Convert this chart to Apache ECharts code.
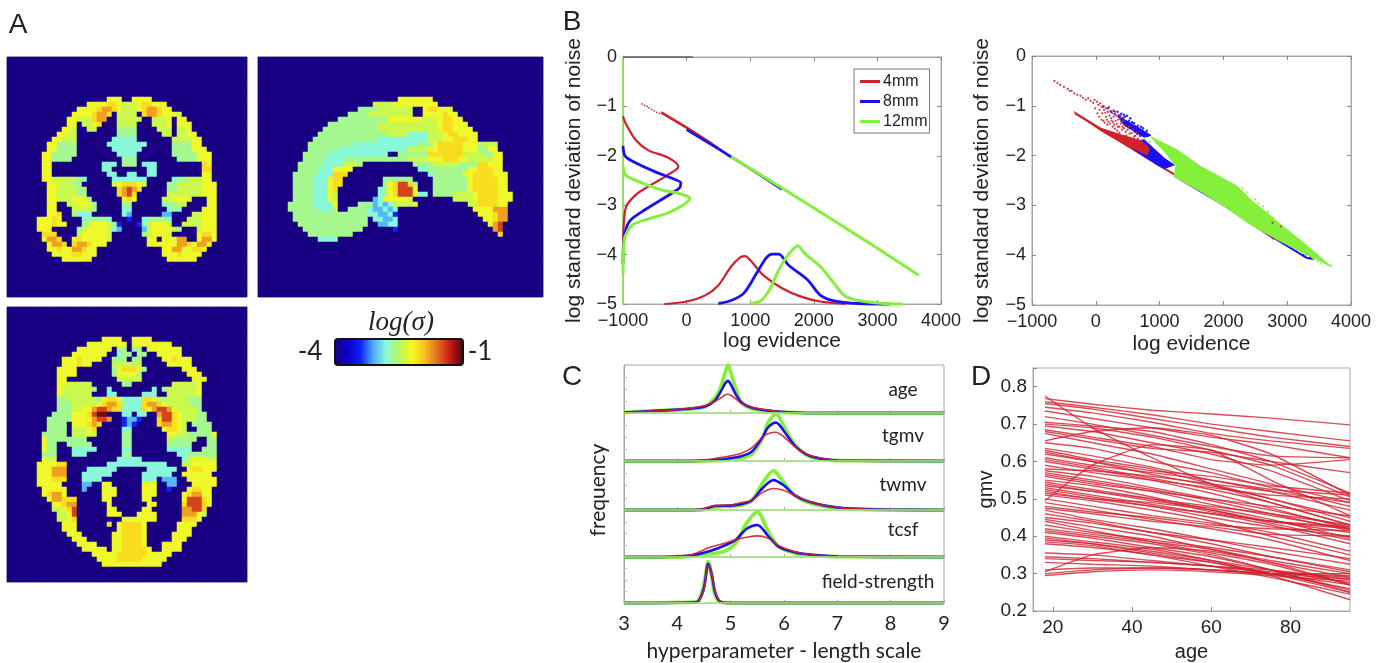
<!DOCTYPE html>
<html><head><meta charset="utf-8">
<style>html,body{margin:0;padding:0;background:#fff}#c{width:1383px;height:663px}</style>
<script src="https://cdn.jsdelivr.net/npm/echarts@6/dist/echarts.min.js"></script>
</head><body><div id="c"></div>
<script>
// ---------- Panel A: log(sigma) maps, run-length rows (count + level letter) ----------
const levelFractions = {'.':0,a:.2,b:.31,c:.4,d:.46,e:.53,f:.585,g:.65,h:.74,i:.85,j:.97};
const coronalRows = {8:"20.3f2.4f",9:"16.4f2g1f3e1f2g3f",10:"14.4f1g2h1g1f3e1f1g2h1g2f",11:"13.4f1g2h1g1.4e1.1g2h1g3f1e",
12:"12.2f3e1g2h2.5e2.3e1f1.2f",13:"12.2f1.2e1f1g3.4e3.3e1f1.3f",14:"11.2f1e2.2e4.4d4.3e1.2e1f",15:"10.2f2e8.4d5.2e1.2e2f",
16:"9.2f3e7.5c7.4e2f",17:"8.2f4d6.1c6c1c5.4d2f",18:"8.2f4d7.6c6.4d3f",19:"7.2f5d8.4c7.5d3f",20:"7.2f4d10.3d8.4d3f",
21:"7.2f10.3c1.3d1.3c9.1g1f",22:"7.2f10.2c7.2c9.2g",23:"7.2f11.2c2.2c2.2c9.2f",24:"7.2f5e1d1c5.7c5.1c2d3e2f",
25:"8.2f3e2d6.1e1f3g1f1e4.2d5e3f",26:"8.2f4e2d6.1g1h1i1h1g5.2d5e3f",27:"8.2f4e2d6.1g1h1i1g6.2e5e3f",28:"8.2f3e3f1d6.1f1g1f5.2e4f3.2f",
29:"8.2f2.2e3f1d5.2d6.1c2d2e4.2f",30:"8.2f3.4e1d5.2c7.1c1d1c4.3f",31:"8.2f1g2.1d3c6.1c1b6.2b4.2e3f",32:"6.3f1g1f4.1c4d1c3.1a2.1c4d1c3.3e3f",
33:"6.3f1g2f3.1d1e3f1e1d1a3.1a1c1e3f1e2.4e3f",34:"6.3f5.1d1e4f1e1c1b4.1b1e4f1e1d3.1e3f",35:"7.3g4.1e5f1e6.1d1e3f1e5.1f2g1f",
36:"7.1f2h1g2.1f1g5f1e7.2f1.3f2h2.1f2h1f",37:"8.1f2h1g1.1g2h1g3f8.6f2h1g1f2h1f",38:"8.2f1g2f2h1g2f13.2f2h2f2g1f",39:"9.4f2g3f13.3f1g4f",40:"11.6f15.6f"};
const sagittalRows = {8:"28.7f",9:"23.4e9f",10:"20.4d7e2.1f2g3f",11:"18.4d9e2.3f1f1g1f1f",12:"16.4d6d7f3e1f2g2f",13:"14.4d6d6e6e1f2g3f",
14:"13.3d8d7e5e1f2g1f3f",15:"12.14d4e4c3e1f2g4f",16:"11.13d10c3e2f3g2f",17:"10.9d13c3d1f5g3f1d3e",18:"10.6d14c4e2f5g3f2d2f",
19:"9.5d12c2.6d2g5g4e2d2f",20:"9.4d4c13d4e3f3g2f3e2e2f",21:"8.5d4c3e1d10.4d5e4d2g3f",22:"8.4d3c4f13.2c8d2f3g2f",23:"7.5d3c3g16.1c6d2f4g3f",
24:"7.4d3c1f2g8.6d4.7d1f5g2f",25:"7.4d3c1f2g8.1d1f1g2i1g1d3.7d1f5g2f",26:"7.4d3c1f1g8.1c1d1f1g3i1f3.7d1f5g2f",
27:"7.4d3c1f1e8.1c1d1f1g3i1f1c1c1.4d4e1f4g3f",28:"7.4d3c1f1e7.1b1c1f1f3f1e8.4e1f4g3f",29:"6.5d4c1f4.3d1b1c1b1c4e1f10.2e4g2f",
30:"6.6d3c1e2.4d1c2b1c1b1c15.4f3h",31:"7.8d7d2c2b1c1a16.3f1g2h",32:"7.15d1.2c2b1c17.2f1g2h",33:"8.14d2.2b2c18.1f1h1i",34:"9.12d6.1a19.1h1i",35:"10.9d29.1g",36:"12.4c"};
const axialRows = {6:"19.4f2.4f",7:"16.8f1.8f",8:"14.7f1.2d1.2d1.7f",9:"13.7f2.1c2d1.2d2.5f",10:"11.3f1g4f2.3d1.2d4.2f1g3f",11:"11.3f1g2f4.6e5.5f",
12:"10.4f7.1d1f3g1f1d7.3f",13:"10.4f7.1d4f1d9.3f",14:"10.2f10.5e10.3f",15:"10.2f5e6.2d8.5e1f",16:"10.1f6e1d2.1c8.1c1.1d6e1f",17:"10.1f6e3.2c5.3c2.6e1f",
18:"10.2d4e2e1d1f2g1f4c2g1f1e1d4e2d1d",19:"10.3d3e2e1f1g2h1g1d3c1g2h1g1f1e4e2d",20:"10.3d2e2f1h2i1h2g1c3c1g1f1h2i1h1f4e1d",
21:"9.4d3f1g1i2j3.2c1.2c2.1h2i1g1f3e2d",22:"8.5d3f1f1h2i1h2.1a2b1a3.1g2i1g1f3e2d",23:"8.4d1.3f1g1h1g4.1a1b1a4.1g2h1g1f1e1.4d",
24:"8.4d1.3e1f1g5.2c6.1f2g1f1e2.3d",25:"7.5d1.3e1f1e5.2d7.2f2e5d1f",26:"7.1f8d7.2d7.1e5d2.2d",27:"7.1f2d2.5d6.2d7.5d3.2d",
28:"7.1f2d3.5c5.2c7.5c2.3d",29:"7.3d3.3c7.2d9.2c6d",30:"7.1f2e12.5c8.1c1e3f2e",31:"6.4f2g8.12c3.2e3f2f",32:"6.3f3h4.6c6.6c2.1f2g3f",
33:"6.3f3h3.6c6.6c2.6f",34:"6.3f3g3.4c8.3c1.3b2.6f",35:"6.5f4.2b2.2f6.3f2.2b3.5f",36:"7.5f3.1b3.3f5.3f2.1a3.1f2g2f",37:"7.1f1g2h1f7.3f5.3f5.1f1g2h2f",
38:"8.1f2h1g2g5.2f6.2f6.1f3i1g1f",39:"9.2f1g2h6.1f7.2f5.1g3i1g1f",40:"9.2e1f1g1i6.2f5.2f6.2h2i1g",41:"10.2e1f1i6.3f3.4f5.3h1f1e",
42:"10.2e1f1g9.7f5.3g1f",43:"11.3f6.1g1.1f4g1f6.4f",44:"11.3f8.1f4g1f6.3f",45:"12.3f6.2f4g1f5.4f",46:"13.3f5.2f4g1f5.3f",47:"14.4f3.2f4g1f3.4f",48:"15.5f1.2f5g1f2.4f",
49:"17.4f1f6g1f4f",50:"18.3f1f5g1f4f",51:"19.12f"};
const jetColors = ['#1a0083','#0a00c8','#1020ff','#50b0ff','#88f8d8','#b8f860','#f8f820','#f8c020','#e07020','#c81818','#500808'];

// ---------- Panel B: densities and noise/evidence cloud ----------
const evidenceDensity4 = [[-350,-5],[0,-4.95],[300,-4.82],[500,-4.62],[700,-4.24],[850,-4.05],[920,-4.03],[1000,-4.11],[1200,-4.41],[1500,-4.68],[1800,-4.85],[2100,-4.95],[2500,-5]];
const evidenceDensity8 = [[500,-4.99],[700,-4.93],[900,-4.78],[1100,-4.38],[1250,-4.07],[1350,-3.99],[1450,-3.99],[1600,-4.21],[1900,-4.51],[2100,-4.82],[2300,-4.93],[2700,-4.99],[3200,-5]];
const evidenceDensity12 = [[1000,-4.99],[1150,-4.95],[1300,-4.72],[1450,-4.31],[1600,-4],[1750,-3.82],[1850,-3.97],[2100,-4.24],[2300,-4.55],[2500,-4.85],[2800,-4.95],[3100,-4.99],[3400,-5]];
const noiseDensity4 = [[-1000,-1.2],[-960,-1.34],[-800,-1.68],[-600,-1.89],[-300,-2.03],[-130,-2.22],[-300,-2.39],[-600,-2.62],[-800,-2.79],[-950,-3.03],[-990,-3.43],[-1000,-4]];
const noiseDensity8 = [[-1000,-1.8],[-970,-2],[-850,-2.11],[-500,-2.32],[-200,-2.47],[-90,-2.55],[-120,-2.66],[-400,-2.89],[-700,-3.13],[-900,-3.33],[-980,-3.64],[-1000,-4.2]];
const noiseDensity12 = [[-1000,-2.2],[-960,-2.39],[-700,-2.55],[-400,-2.69],[-100,-2.77],[50,-2.86],[-50,-2.99],[-300,-3.16],[-600,-3.28],[-850,-3.4],[-980,-3.7],[-1000,-4.4]];
const diagonal4 = [[-400,-1.12],[0,-1.43],[400,-1.76],[700,-2.03]];
const diagonal8 = [[0,-1.47],[500,-1.86],[1000,-2.26],[1500,-2.68]];
const diagonal12 = [[700,-2.02],[1500,-2.65],[2200,-3.22],[3000,-3.87],[3650,-4.42]];
const sparseLeft4 = [[-700,-.95],[-660,-.98],[-620,-1],[-590,-1.03],[-550,-1.06],[-510,-1.09],[-470,-1.12],[-430,-1.14]];
const frontWedge4 = [[-340,-1.12],[78,-1.45],[392,-1.58],[705,-1.7],[836,-1.85],[810,-1.99],[496,-1.81],[78,-1.5]];
const frontWedge8a = [[496,-1.75],[757,-1.68],[1071,-2.05],[1228,-2.19],[1071,-2.26],[966,-2.19],[496,-1.8]];
const frontWedge8b = [[340,-1.2],[549,-1.35],[862,-1.59],[757,-1.63],[444,-1.39]];
const frontWedge12 = [[862,-1.62],[1280,-1.89],[1646,-2.22],[2011,-2.47],[2220,-2.62],[2430,-2.89],[2690,-3.16],[2900,-3.39],[3265,-3.76],[3683,-4.22],[3265,-3.96],[2847,-3.69],[2430,-3.39],[2064,-3.06],[1646,-2.72],[1228,-2.42],[1254,-2.22],[1123,-1.99]];
const frontRim4 = [[-330,-1.15],[0,-1.41],[1000,-2.2],[2000,-2.97],[2800,-3.68]];
const frontRim8 = [[1228,-2.4],[2000,-2.99],[2800,-3.66],[3300,-4.05],[3420,-4.08]];
const scatter4 = [[-650,-.5],[-600,-.54],[-560,-.58],[-500,-.62],[-440,-.66],[-410,-.7],[-380,-.7],[-340,-.75],[-290,-.78],[-240,-.8],[-200,-.84],[-160,-.88],[-120,-.85],[-80,-.9],[-40,-.94],[-20,-.88],[20,-.92],[40,-.98],[70,-.95],[90,-1.02],[120,-1],[130,-1.08],[160,-1.05],[190,-1.12],[210,-1.02],[230,-1.1],[260,-1.15],[280,-1.22],[300,-1.12],[330,-1.2],[350,-1.28],[380,-1.25],[400,-1.32],[160,-1.22],[200,-1.32],[250,-1.3],[290,-1.38],[330,-1.36],[370,-1.42],[420,-1.42],[120,-1.3],[450,-1.38],[500,-1.48],[560,-1.55],[620,-1.6],[2900,-3.42],[2770,-3.35],
[60,-1.08],[100,-1.15],[150,-1.14],[175,-1.28],[215,-1.2],[240,-1.25],[270,-1.33],[310,-1.3],[345,-1.42],[390,-1.36],[410,-1.48],[440,-1.45],[470,-1.52],[520,-1.42],[530,-1.56],[580,-1.48],[600,-1.62],[640,-1.54],[660,-1.66],[690,-1.6],[220,-1.36],[265,-1.42],[300,-1.46],[335,-1.5],[370,-1.54],[140,-1.34],[180,-1.38],[90,-1.28],[55,-1.22],[25,-1.15],[-10,-1.05],[480,-1.6],[360,-1.18],[430,-1.3]];
const scatter8 = [[120,-1.02],[190,-1.05],[240,-1.12],[280,-1.1],[300,-1.17],[340,-1.12],[380,-1.2],[400,-1.16],[430,-1.24],[460,-1.22],[520,-1.3],[570,-1.33],[620,-1.42],[680,-1.46],[730,-1.5],[780,-1.55],[820,-1.6],[1380,-2.15],[1450,-2.2],[2800,-3.47],[2860,-3.52],[2950,-3.6],[3050,-3.68],[3130,-3.75],[3200,-3.8],[3230,-3.92],[3280,-3.85],[3300,-3.98],[3330,-3.95],[3360,-4.05],[3400,-3.99],
[610,-1.52],[650,-1.56],[700,-1.6],[660,-1.4],[600,-1.35],[540,-1.25],[490,-1.2],[440,-1.18],[740,-1.45],[800,-1.5],[710,-1.42],[3100,-3.82],[3160,-3.88],[3250,-4],[3050,-3.78]];
const scatter12 = [[2780,-3.25],[2830,-3.32],[2880,-3.38],[2940,-3.44],[3000,-3.52],[3080,-3.6],[3140,-3.66],[3400,-4.07],[3480,-4.12],[3530,-4.17],[3580,-4.15],[3640,-4.2],[3690,-4.21],[780,-1.65],[850,-1.72],[950,-1.75],[1100,-1.82],[2550,-2.96],[2620,-3.02],[2700,-3.12],[2500,-2.88],[2360,-2.74],[2300,-2.66]];

// ---------- Panel C: length-scale histograms ----------
const ageX=[3,3.5,4,4.5,4.7,4.8,4.9,4.95,5,5.1,5.2,5.4,5.7,6,6.5,9];
const age4=[.01,.04,.07,.15,.24,.3,.38,.39,.37,.29,.2,.12,.06,.02,0,0];
const age8=[.01,.04,.07,.13,.25,.42,.62,.67,.6,.38,.22,.11,.05,.02,0,0];
const age12=[.01,.04,.07,.12,.31,.5,.85,1,.85,.5,.22,.09,.03,.01,0,0];
const tgmvX=[3,4.3,4.8,5,5.2,5.4,5.6,5.7,5.85,6,6.2,6.4,6.6,7,9];
const tgmv4=[0,0,.07,.11,.16,.28,.5,.57,.6,.5,.3,.15,.08,.01,0];
const tgmv8=[0,0,.03,.06,.1,.2,.5,.7,.8,.62,.32,.15,.07,.01,0];
const tgmv12=[0,0,.01,.03,.06,.15,.48,.8,.98,.72,.34,.14,.05,.01,0];
const twmvX=[3,4.3,4.5,4.7,5,5.2,5.4,5.6,5.8,6,6.2,6.5,7,7.5,8,9];
const twmv4=[0,0,.03,.09,.1,.15,.2,.36,.44,.4,.3,.16,.05,.02,.005,0];
const twmv8=[0,0,.02,.08,.09,.12,.2,.45,.61,.5,.3,.16,.05,.02,.005,0];
const twmv12=[0,0,.01,.06,.08,.1,.2,.55,.8,.55,.3,.14,.04,.01,0,0];
const tcsfX=[3,3.7,4,4.3,4.6,4.9,5.1,5.3,5.5,5.7,5.9,6.2,6.5,7,9];
const tcsf4=[0,0,.01,.06,.2,.3,.37,.42,.45,.4,.24,.11,.05,.01,0];
const tcsf8=[0,0,.01,.04,.12,.25,.37,.6,.68,.45,.22,.1,.05,.01,0];
const tcsf12=[0,0,0,.02,.06,.13,.3,.72,.96,.55,.22,.08,.03,.01,0];
const fieldX=[3,4.3,4.4,4.5,4.58,4.65,4.7,4.8,5,9];
const field4=[0,.01,.05,.3,.82,.62,.3,.04,0,0];
const field8=[0,.01,.05,.33,.85,.6,.27,.03,0,0];
const field12=[0,.02,.06,.4,.9,.55,.2,.02,0,0];
const cLabels=['age','tgmv','twmv','tcsf','field-strength'];
const cBaseline=[[3,0],[9,0]];

// ---------- Panel D: gmv against age ----------
const gmvAges=[18,30,45,60,75,95];
const gmvRows=[[.775,.69,.61,.54,.49,.43],[.768,.753,.737,.727,.716,.698],[.76,.745,.725,.70,.68,.655],[.755,.74,.715,.69,.665,.64],[.745,.73,.705,.675,.655,.635],
[.735,.715,.69,.665,.645,.61],[.72,.70,.67,.64,.615,.61],[.705,.695,.68,.645,.60,.515],[.70,.69,.665,.63,.59,.505],[.695,.68,.65,.62,.575,.495],[.685,.665,.64,.605,.59,.605],
[.68,.66,.635,.625,.60,.57],[.675,.65,.62,.58,.54,.49],[.655,.68,.69,.67,.62,.51],[.65,.635,.60,.57,.53,.48],[.635,.615,.585,.55,.52,.47],[.63,.605,.58,.54,.50,.45],
[.625,.60,.565,.535,.50,.44],[.62,.60,.575,.56,.535,.515],[.61,.59,.57,.55,.525,.51],[.605,.585,.555,.525,.49,.43],[.60,.58,.55,.515,.475,.42],[.59,.57,.55,.53,.51,.50],
[.58,.575,.56,.54,.52,.49],[.575,.56,.53,.50,.47,.425],[.57,.55,.525,.495,.46,.415],[.565,.545,.52,.485,.455,.42],[.56,.54,.52,.50,.48,.455],[.55,.535,.505,.47,.435,.39],
[.545,.525,.50,.465,.44,.41],[.54,.52,.495,.475,.445,.395],[.535,.52,.50,.48,.46,.43],[.53,.51,.485,.46,.43,.38],[.525,.505,.48,.45,.425,.40],[.52,.50,.49,.47,.44,.42],
[.515,.50,.48,.46,.44,.425],[.51,.495,.47,.44,.40,.35],[.50,.48,.455,.435,.41,.36],[.495,.59,.645,.63,.55,.455],[.49,.47,.445,.42,.39,.335],[.48,.465,.45,.43,.42,.415],
[.475,.46,.44,.425,.405,.40],[.47,.445,.42,.39,.36,.325],[.46,.44,.41,.38,.345,.305],[.45,.435,.41,.39,.37,.34],[.445,.425,.40,.365,.33,.29],[.44,.415,.385,.355,.325,.27],
[.43,.41,.39,.37,.345,.31],[.42,.405,.385,.365,.335,.30],[.415,.40,.38,.35,.31,.255],[.41,.395,.37,.345,.31,.25],[.40,.385,.365,.335,.30,.26],[.395,.38,.355,.33,.295,.23],
[.39,.38,.36,.335,.31,.275],[.385,.375,.35,.33,.30,.25],[.38,.37,.35,.32,.29,.245],[.355,.35,.335,.32,.31,.285],[.345,.34,.33,.32,.30,.27],[.34,.335,.33,.32,.305,.29],
[.33,.325,.32,.31,.30,.30],[.31,.315,.315,.31,.30,.285],[.305,.35,.37,.36,.33,.27],[.30,.31,.315,.31,.30,.295],[.295,.305,.31,.305,.295,.28]];

// ---------- Option assembly ----------
const RED='#d0202c',BLUE='#1a10f0',GREEN='#84f03c',SANS='Liberation Sans',GILL='Lato',INK='#222',FRAME='#a8a8a8';
const grids=[],xAxes=[],yAxes=[],series=[],heatIdx=[];
const minus=v=>String(v).replace('-','\u2212');
const tickStyle={inside:true,length:4,lineStyle:{color:'#888'}};
function addPanel(box,xo,yo){
  const g=grids.length;
  grids.push(Object.assign({show:true,borderColor:FRAME,borderWidth:1,backgroundColor:'transparent',containLabel:false},box));
  const ai=xAxes.length;
  xAxes.push(Object.assign({type:'value',gridIndex:g,splitLine:{show:false},axisLine:{onZero:false,lineStyle:{color:FRAME}},axisTick:tickStyle,axisLabel:{color:INK,fontFamily:SANS,fontSize:18,margin:8,formatter:minus}},xo));
  yAxes.push(Object.assign({type:'value',gridIndex:g,splitLine:{show:false},axisLine:{onZero:false,lineStyle:{color:FRAME}},axisTick:tickStyle,axisLabel:{color:INK,fontFamily:SANS,fontSize:18,margin:6,formatter:minus}},yo));
  return ai;
}
function addMirror(xo,yo){
  const g=grids.length-1;
  xAxes.push(Object.assign({type:'value',gridIndex:g,position:'top',splitLine:{show:false},axisLine:{onZero:false,lineStyle:{color:FRAME}},axisTick:tickStyle,axisLabel:{show:false}},xo));
  yAxes.push(Object.assign({type:'value',gridIndex:g,position:'right',splitLine:{show:false},axisLine:{onZero:false,lineStyle:{color:FRAME}},axisTick:tickStyle,axisLabel:{show:false}},yo));
}
function line(ax,name,data,color,width,smooth,opacity,z){
  series.push({type:'line',name,xAxisIndex:ax,yAxisIndex:ax,data,showSymbol:false,symbol:'none',smooth:smooth?(smooth===true?0.3:smooth):false,clip:false,z:z||3,
    lineStyle:{color,width,opacity:opacity==null?1:opacity},itemStyle:{color},silent:true});
}
function band(ax,pts,color,z){
  series.push({type:'custom',xAxisIndex:ax,yAxisIndex:ax,coordinateSystem:'cartesian2d',data:[0],silent:true,z:z,clip:false,
    renderItem:(p,api)=>({type:'polygon',shape:{points:pts.map(q=>api.coord(q))},style:{fill:color,stroke:color,lineWidth:1}})});
}
function dots(ax,pts,color,size,z){
  series.push({type:'scatter',xAxisIndex:ax,yAxisIndex:ax,data:pts,symbolSize:size,itemStyle:{color,opacity:.9},silent:true,z:z||4});
}
function addBrain(rows,nc,nr,box){
  const g=grids.length;
  grids.push(Object.assign({show:true,borderColor:FRAME,borderWidth:1,containLabel:false},box));
  const ai=xAxes.length,cat=n=>Array.from({length:n},(_,i)=>i);
  xAxes.push({type:'category',gridIndex:g,data:cat(nc),show:false});
  yAxes.push({type:'category',gridIndex:g,data:cat(nr),show:false,inverse:true});
  const data=[];
  for(let r=0;r<nr;r++){
    let c=0;const cells=new Array(nc).fill('.');
    for(const m of (rows[r]||'').matchAll(/(\d+)([.a-j])/g)){for(let k=0;k<+m[1]&&c<nc;k++)cells[c++]=m[2];}
    cells.forEach((l,i)=>data.push([i,r,-4+3*levelFractions[l]]));
  }
  heatIdx.push(series.length);
  series.push({type:'heatmap',xAxisIndex:ai,yAxisIndex:ai,data,silent:true,progressive:0,itemStyle:{borderWidth:0}});
}
addBrain(coronalRows,48,48,{left:7,top:57,width:240,height:240});
addBrain(sagittalRows,57,48,{left:258,top:57,width:285,height:240});
addBrain(axialRows,48,55,{left:7,top:307,width:240,height:275});

const bx={min:-1000,max:4000,interval:1000}, by={min:-5,max:0,interval:1};
const named=(t,gap,size)=>({name:t,nameLocation:'middle',nameGap:gap,nameTextStyle:{color:INK,fontFamily:SANS,fontSize:size||21}});

// B left
const bl=addPanel({left:623,top:57,width:318,height:247},Object.assign({},bx,named('log evidence',27)),Object.assign({},by,named('log standard deviation of noise',38)));
addMirror(bx,by);
line(bl,'_edge',[[-1000,0],[-1000,-5]],GREEN,1.5,false,1,2);
line(bl,'_top',[[-1000,0],[100,0]],'#333',1.2,false,1,2);
line(bl,'4mm',evidenceDensity4,RED,2.2,true);
line(bl,'8mm',evidenceDensity8,BLUE,2.8,true);
line(bl,'12mm',evidenceDensity12,GREEN,3,true);
line(bl,'4mm',noiseDensity4,RED,2.2,true);
line(bl,'8mm',noiseDensity8,BLUE,2.8,true);
line(bl,'12mm',noiseDensity12,GREEN,3,true);
line(bl,'4mm',diagonal4,RED,2.6,false);
line(bl,'8mm',diagonal8,BLUE,2.6,false);
line(bl,'12mm',diagonal12,GREEN,3,false);
dots(bl,sparseLeft4,RED,1.8);

// B right
const br=addPanel({left:1032,top:56,width:319,height:249},Object.assign({},bx,named('log evidence',29)),Object.assign({},by,named('log standard deviation of noise',39)));
addMirror(bx,by);
line(br,'_r',frontRim4,RED,2,false,1,2);
line(br,'_b',frontRim8,BLUE,2,false,1,2);
band(br,frontWedge4,RED,4);
band(br,frontWedge8a,BLUE,3);
band(br,frontWedge8b,BLUE,3);
band(br,frontWedge12,GREEN,5);
dots(br,scatter4,RED,2.2,6);
dots(br,scatter8,BLUE,2.4,4);
dots(br,scatter12,GREEN,2.2,6);

// C rows
const cTops=[365,413,461,510,557,607];
const cSets=[[ageX,age4,age8,age12],[tgmvX,tgmv4,tgmv8,tgmv12],[twmvX,twmv4,twmv8,twmv12],[tcsfX,tcsf4,tcsf8,tcsf12],[fieldX,field4,field8,field12]];
cSets.forEach((s,i)=>{
  const last=i===4;
  const ax=addPanel({left:624,top:cTops[i],width:320,height:cTops[i+1]-cTops[i]},
    Object.assign({min:3,max:9,interval:1,axisTick:{inside:true,length:3,lineStyle:{color:'#aaa'}},axisLabel:{show:last,color:INK,fontFamily:GILL,fontSize:20,margin:11}},
      last?{name:'hyperparameter - length scale',nameLocation:'middle',nameGap:38,nameTextStyle:{color:INK,fontFamily:GILL,fontSize:21}}:{}),
    {min:0,max:1,interval:.25,axisTick:{inside:true,length:3,lineStyle:{color:'#bbb'}},axisLabel:{show:false}});
  const pair=a=>s[0].map((x,k)=>[x,a[k]]);
  line(ax,'4mm',pair(s[1]),RED,1.6,true,.9,5);
  line(ax,'8mm',pair(s[2]),BLUE,2.6,true,1,4);
  line(ax,'12mm',pair(s[3]),GREEN,3.8,true,1,3);
  line(ax,'_base',cBaseline,'#a8f084',1.6,false,1,6);
});

// D
const dx={min:15,max:95,interval:5,axisTick:{customValues:[20,40,60,80],inside:true,length:4,lineStyle:{color:'#888'}},axisLabel:{customValues:[20,40,60,80],color:INK,fontFamily:SANS,fontSize:19,margin:7},name:'age',nameLocation:'middle',nameGap:31,nameTextStyle:{color:INK,fontFamily:SANS,fontSize:20}};
const dy={min:.2,max:.85,interval:.1,axisLabel:{color:INK,fontFamily:SANS,fontSize:19,margin:6,formatter:v=>v>.84?'':v.toFixed(1)},name:'gmv',nameLocation:'middle',nameGap:37,nameTextStyle:{color:INK,fontFamily:SANS,fontSize:20}};
const dp=addPanel({left:1033,top:368,width:317,height:245},dx,dy);
gmvRows.forEach(row=>line(dp,'_g',gmvAges.map((a,k)=>[a,row[k]]),'#cf2030',1.4,0.15,.8));

const centered=(cx,cy,text,font,size,extra)=>({type:'text',x:cx,y:cy,z:50,silent:true,style:Object.assign({text,fill:INK,font:`${size}px "${font}"`,textAlign:'center',textVerticalAlign:'middle'},extra||{})});
const graphic=[
 centered(18,25,'A',SANS,28),centered(572,22,'B',SANS,28),centered(572,377,'C',SANS,28),centered(981,377,'D',SANS,28),
 centered(401,323,'log(\u03c3)','Liberation Serif',27,{font:'italic 27px "Liberation Serif"'}),
 centered(310,352,'-4',GILL,26),centered(480,352,'-1',GILL,26),
 {type:'rect',shape:{x:335,y:339,width:128,height:26,r:3},style:{fill:'none',stroke:'#111',lineWidth:2},z:50,silent:true},
 centered(903,390,cLabels[0],GILL,19),centered(903,436,cLabels[1],GILL,19),centered(903,485,cLabels[2],GILL,19),centered(903,530,cLabels[3],GILL,19),centered(878,582,cLabels[4],GILL,19),
 {type:'text',x:598,y:490,rotation:Math.PI/2,z:50,silent:true,style:{text:'frequency',fill:INK,font:`21px "${GILL}"`,textAlign:'center',textVerticalAlign:'middle'}}
];

const chart=echarts.init(document.getElementById('c'),null,{renderer:'canvas'});
chart.setOption({animation:false,backgroundColor:'#fff',grid:grids,xAxis:xAxes,yAxis:yAxes,series,graphic,
 legend:{show:true,data:['4mm','8mm','12mm'],orient:'vertical',left:854,top:69,padding:[4,2,3,6],itemGap:3,itemWidth:20,itemHeight:3,icon:'rect',backgroundColor:'#fff',borderColor:'#777',borderWidth:1,selectedMode:false,textStyle:{color:INK,fontFamily:SANS,fontSize:16,padding:[0,0,0,-2],lineHeight:17},z:40},
 visualMap:{type:'continuous',min:-4,max:-1,seriesIndex:heatIdx,dimension:2,orient:'horizontal',left:335,top:339,itemWidth:26,itemHeight:128,padding:0,text:null,showLabel:false,calculable:false,realtime:false,hoverLink:false,inRange:{color:jetColors}}
});
</script></body></html>
